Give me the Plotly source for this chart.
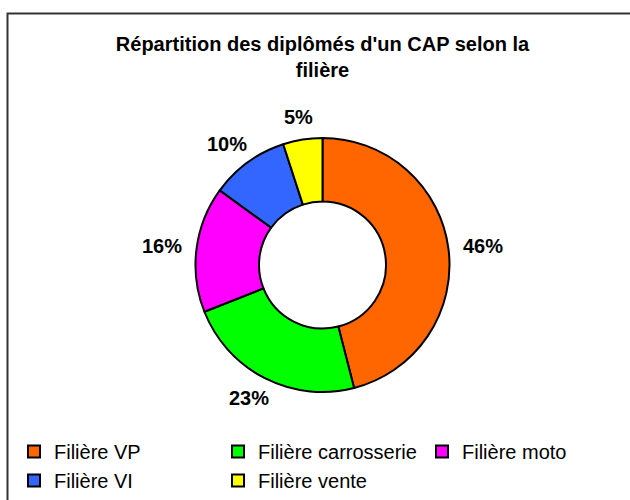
import math
import plotly.graph_objects as go

labels = ["Filière VP", "Filière carrosserie", "Filière moto", "Filière VI", "Filière vente"]
values = [46, 23, 16, 10, 5]
colors = ["#FF6600", "#00FF00", "#FF00FF", "#3366FF", "#FFFF00"]
title_text = "<b>Répartition des diplômés d'un CAP selon la<br>filière</b>"

W, H = 630, 500
cx, cy, R = 322.5, 265.0, 127.0
FONT = "Arial, Liberation Sans, sans-serif"
FS = 20

fig = go.Figure()
fig.add_trace(go.Pie(
    labels=labels, values=values, hole=0.5, sort=False, direction="clockwise",
    rotation=0,
    marker=dict(colors=colors, line=dict(color="black", width=2)),
    textinfo="none", hoverinfo="label+percent",
    domain=dict(x=[(cx - R) / W, (cx + R) / W], y=[1 - (cy + R) / H, 1 - (cy - R) / H]),
))

# percentage labels placed just outside the ring at each slice's mid-angle
total = sum(values)
cum = 0
gap = 15
for v in values:
    mid = (cum + v / 2) / total * 2 * math.pi
    cum += v
    txt = "%d%%" % round(v / total * 100)
    w = (0.556 * (len(txt) - 1) + 0.889) * FS
    h = 0.75 * FS
    s, c = math.sin(mid), -math.cos(mid)
    px = cx + (R + gap) * s + w / 2 * s
    py = cy + (R + gap) * c + h / 2 * c
    fig.add_annotation(
        x=px / W, y=1 - py / H, xref="paper", yref="paper",
        xanchor="center", yanchor="middle",
        text="<b>%s</b>" % txt, showarrow=False,
        font=dict(family=FONT, size=FS, color="black"),
    )

fig.add_shape(type="rect", xref="paper", yref="paper",
              x0=7.5 / W, x1=1.5, y0=-0.3, y1=1 - 13.5 / H,
              line=dict(color="#333333", width=2), fillcolor="rgba(0,0,0,0)")

fig.update_layout(
    width=W, height=H,
    margin=dict(l=0, r=0, t=0, b=0),
    paper_bgcolor="white", plot_bgcolor="white",
    title=dict(text=title_text, x=cx / W, xanchor="center", y=1 - 51 / H, yanchor="top",
               font=dict(family=FONT, size=FS, color="black")),
    showlegend=True,
    legend=dict(orientation="h", x=14 / W, xanchor="left", y=1 - 432 / H, yanchor="top",
                font=dict(family=FONT, size=FS, color="black"),
                entrywidth=159, entrywidthmode="pixels", traceorder="normal",
                itemclick=False, itemdoubleclick=False),
    font=dict(family=FONT),
)

fig.write_html("out.html", config={"displayModeBar": False},
               post_script="document.body.style.margin='0';")
